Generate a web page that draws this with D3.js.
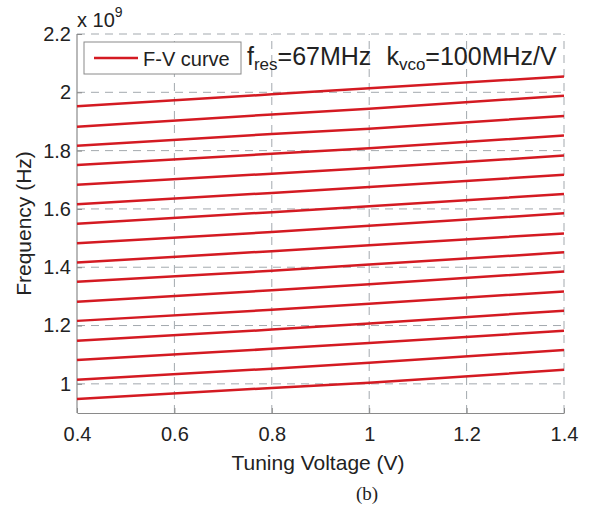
<!DOCTYPE html>
<html><head><meta charset="utf-8">
<script src="https://cdn.jsdelivr.net/npm/d3@7"></script>
<style>body{margin:0;background:#fff}svg{display:block}text{font-family:"Liberation Sans",Arial,sans-serif;fill:#222}</style>
</head><body><div id="c"></div>
<script>
// Data (frequency in units of 1e9 Hz)
const voltage = [0.4, 0.8, 1.0, 1.4];
const curve01 = [0.948, 0.986, 1.004, 1.048];
const curve02 = [1.014, 1.052, 1.072, 1.116];
const curve03 = [1.082, 1.120, 1.140, 1.182];
const curve04 = [1.148, 1.186, 1.207, 1.251];
const curve05 = [1.216, 1.254, 1.275, 1.317];
const curve06 = [1.282, 1.321, 1.342, 1.385];
const curve07 = [1.350, 1.388, 1.409, 1.451];
const curve08 = [1.416, 1.455, 1.475, 1.516];
const curve09 = [1.482, 1.521, 1.542, 1.585];
const curve10 = [1.549, 1.589, 1.609, 1.651];
const curve11 = [1.616, 1.655, 1.675, 1.717];
const curve12 = [1.683, 1.721, 1.740, 1.783];
const curve13 = [1.751, 1.789, 1.808, 1.852];
const curve14 = [1.817, 1.857, 1.875, 1.919];
const curve15 = [1.882, 1.924, 1.944, 1.988];
const curve16 = [1.952, 1.993, 2.014, 2.054];
const curves = [curve01,curve02,curve03,curve04,curve05,curve06,curve07,curve08,
                curve09,curve10,curve11,curve12,curve13,curve14,curve15,curve16];
const xTicks = [0.4, 0.6, 0.8, 1.0, 1.2, 1.4];
const xTickLabels = ["0.4","0.6","0.8","1","1.2","1.4"];
const yTicks = [1.0, 1.2, 1.4, 1.6, 1.8, 2.0, 2.2];
const yTickLabels = ["1","1.2","1.4","1.6","1.8","2","2.2"];

const W = 600, H = 508;
const L = 77, R = 564, T = 34, B = 413;
const svg = d3.select("#c").append("svg").attr("width", W).attr("height", H);
const x = d3.scaleLinear().domain([0.4, 1.4]).range([L, R]);
const y = d3.scaleLinear().domain([0.9, 2.2]).range([B, T]);

// grid
const grid = svg.append("g").attr("stroke", "#a3a9ae").attr("stroke-width", 1).attr("stroke-dasharray", "8,6");
grid.selectAll(".gx").data(xTicks.slice(1)).join("line")
  .attr("x1", d => x(d)).attr("x2", d => x(d)).attr("y1", B).attr("y2", T);
grid.selectAll(".gy").data(yTicks).join("line")
  .attr("x1", L).attr("x2", R).attr("y1", d => y(d)).attr("y2", d => y(d));

// axes
const xAxis = d3.axisBottom(x).tickValues(xTicks).tickFormat((d, i) => xTickLabels[i]).tickSizeInner(-5).tickSizeOuter(0).tickPadding(14);
const gx = svg.append("g").attr("transform", `translate(0,${B})`).call(xAxis);
const yAxis = d3.axisLeft(y).tickValues(yTicks).tickFormat((d, i) => yTickLabels[i]).tickSizeInner(-5).tickSizeOuter(0).tickPadding(6);
const gy = svg.append("g").attr("transform", `translate(${L},0)`).call(yAxis);
[gx, gy].forEach(g => {
  g.select(".domain").attr("stroke", "#8a8a8a").attr("stroke-width", 1.2);
  g.selectAll(".tick line").attr("stroke", "#8a8a8a");
  g.selectAll(".tick text").attr("font-size", 20).attr("font-family", '"Liberation Sans",Arial,sans-serif').attr("fill", "#222");
});
gy.select(".domain").attr("d", `M0,${B}V${T}`);

// curves
const line = d3.line().x((d, i) => x(voltage[i])).y(d => y(d));
svg.append("g").selectAll("path").data(curves).join("path")
  .attr("d", line).attr("fill", "none").attr("stroke", "#d41a22").attr("stroke-width", 2.5);

// legend
svg.append("rect").attr("x", 84).attr("y", 42).attr("width", 157).attr("height", 32)
  .attr("fill", "#fff").attr("stroke", "#8a8a8a").attr("stroke-width", 1);
svg.append("line").attr("x1", 94).attr("x2", 138).attr("y1", 58).attr("y2", 58)
  .attr("stroke", "#d41a22").attr("stroke-width", 2.5);
svg.append("text").attr("x", 143).attr("y", 66).attr("font-size", 20).text("F-V curve");

// annotation
const ann = svg.append("text").attr("x", 247).attr("y", 65).attr("font-size", 25);
ann.append("tspan").text("f");
ann.append("tspan").attr("font-size", 17).attr("dy", 5).text("res");
ann.append("tspan").attr("dy", -5).text("=67MHz");
ann.append("tspan").attr("dx", 15).text("k");
ann.append("tspan").attr("font-size", 17).attr("dy", 5).text("vco");
ann.append("tspan").attr("dy", -5).text("=100MHz/V");

// exponent
const ex = svg.append("text").attr("x", 77).attr("y", 27).attr("font-size", 20);
ex.append("tspan").text("x 10");
ex.append("tspan").attr("font-size", 14).attr("dy", -10).text("9");

// axis labels
svg.append("text").attr("x", 318).attr("y", 470).attr("text-anchor", "middle").attr("font-size", 21).text("Tuning Voltage (V)");
svg.append("text").attr("transform", `translate(31,${(T + B) / 2}) rotate(-90)`).attr("text-anchor", "middle").attr("font-size", 21).text("Frequency (Hz)");
svg.append("text").attr("x", 367).attr("y", 500).attr("text-anchor", "middle").attr("font-size", 19)
  .style("font-family", '"Liberation Serif","Times New Roman",serif').text("(b)");
</script></body></html>
